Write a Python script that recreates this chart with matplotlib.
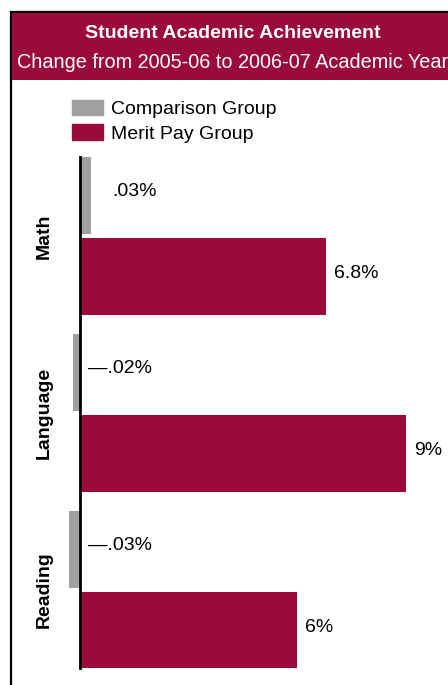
import matplotlib
matplotlib.use("Agg")
import matplotlib.pyplot as plt
from matplotlib.patches import Rectangle, Patch

plt.rcParams['font.family'] = ['Liberation Sans', 'DejaVu Sans']

# data
subjects = ["Math", "Language", "Reading"]
comparison = [0.03, -0.02, -0.03]   # % change, comparison group
merit = [6.8, 9, 6]                 # % change, merit pay group
comp_labels = [".03%", "\u2014.02%", "\u2014.03%"]
merit_labels = ["6.8%", "9%", "6%"]
comp_scale = 10  # original chart draws the tiny comparison bars 10x enlarged

maroon = "#9b0b3a"
grey = "#a0a0a0"

W, H = 448, 685
fig = plt.figure(figsize=(W / 100, H / 100), dpi=100)

# frame + header band
fig.patches.append(Rectangle((11 / W, -0.05), 1.1, (H - 12) / H + 0.05, transform=fig.transFigure,
                             facecolor="none", edgecolor="black", linewidth=1.6, zorder=-1))
fig.patches.append(Rectangle((12 / W, (H - 80) / H), 1.0, 67 / H, transform=fig.transFigure,
                             facecolor=maroon, edgecolor="none", zorder=-1))
fig.text(233 / W, 1 - 33 / H, "Student Academic Achievement", color="white",
         fontsize=14, fontweight="bold", ha="center", va="center")
fig.text(233 / W, 1 - 62 / H, "Change from 2005-06 to 2006-07 Academic Year", color="white",
         fontsize=14.3, ha="center", va="center")

# bars
ax = fig.add_axes([11 / W, (H - 668) / H, (W - 11) / W, 511 / H])
ax.patch.set_alpha(0)
px = 36.2  # pixels per percent
ax.set_xlim(-(80 - 11) / px, (W - 80) / px)
ax.set_ylim(511 / 177, 0)

h = 0.435
for i in range(len(subjects)):
    yc = i + 0.2175
    ym = i + 0.675
    ax.barh(yc, comparison[i] * comp_scale, height=h, color=grey)
    ax.barh(ym, merit[i], height=h, color=maroon)
    ax.text(merit[i] + 8 / px, ym - 0.015, merit_labels[i], fontsize=14, va="center", ha="left")
    cx = 32 / px if comparison[i] > 0 else 8 / px
    ax.text(cx, yc - 0.02, comp_labels[i], fontsize=14, va="center", ha="left")
    ax.text(-(80 - 44) / px, i + 0.447, subjects[i], rotation=90, fontsize=14,
            fontweight="bold", va="center", ha="center")

for s in ["top", "right", "bottom"]:
    ax.spines[s].set_visible(False)
ax.spines["left"].set_position(("data", 0))
ax.spines["left"].set_linewidth(2)
ax.set_xticks([])
ax.set_yticks([])

handles = [Patch(color=grey, label="Comparison Group"), Patch(color=maroon, label="Merit Pay Group")]
fig.legend(handles=handles, loc="upper left", bbox_to_anchor=(58 / W, 1 - 86 / H), frameon=False,
           fontsize=14, handlelength=1.6, handleheight=0.88, labelspacing=0.3,
           handletextpad=0.45, borderpad=0.2)

fig.savefig("out.png", dpi=100)
